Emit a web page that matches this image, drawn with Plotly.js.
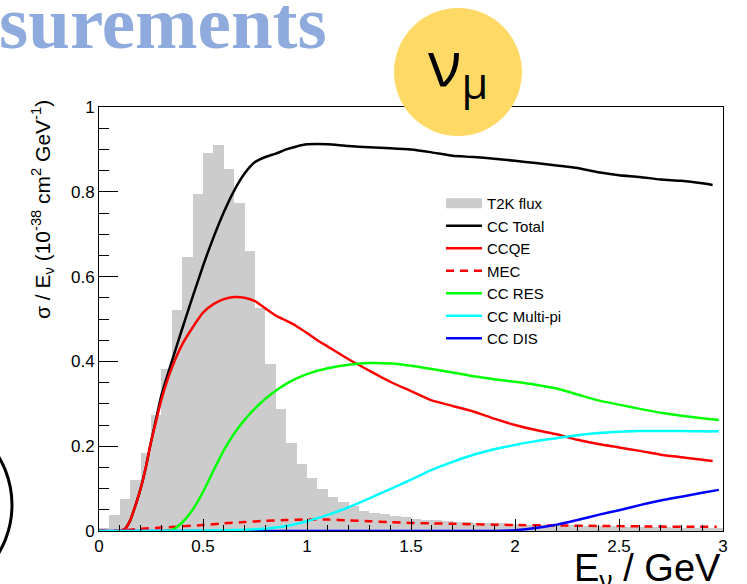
<!DOCTYPE html>
<html><head><meta charset="utf-8">
<script src="https://cdn.plot.ly/plotly-3.0.1.min.js"></script>
<style>html,body{margin:0;padding:0;background:#fff}#chart{width:747px;height:584px}</style>
</head><body><div id="chart"></div>
<script>
// T2K flux histogram (arbitrary units on the same axis), 0.05 GeV bins
const fluxE = [0.025,0.075,0.125,0.175,0.225,0.275,0.325,0.375,0.425,0.475,0.525,0.575,0.625,0.675,0.725,0.775,0.825,0.875,0.925,0.975,1.025,1.075,1.125,1.175,1.225,1.275,1.325,1.375,1.425,1.475,1.525,1.575,1.625,1.675,1.725,1.775,1.825,1.875,1.925,1.975,2.025,2.075,2.125,2.175,2.225,2.275,2.325,2.375,2.425,2.475,2.525,2.575,2.625,2.675,2.725,2.775,2.825,2.875,2.925,2.975];
const fluxVal = [0.006,0.037,0.076,0.120,0.184,0.273,0.381,0.522,0.647,0.794,0.892,0.910,0.853,0.774,0.660,0.526,0.394,0.288,0.208,0.159,0.124,0.098,0.081,0.069,0.058,0.048,0.043,0.039,0.035,0.033,0.029,0.027,0.025,0.024,0.022,0.021,0.020,0.019,0.018,0.017,0.016,0.015,0.015,0.014,0.013,0.013,0.012,0.012,0.011,0.011,0.010,0.010,0.009,0.009,0.009,0.008,0.008,0.008,0.007,0.007];

const totalE = [0.10,0.125,0.15,0.175,0.20,0.225,0.25,0.275,0.30,0.35,0.40,0.45,0.50,0.55,0.60,0.65,0.70,0.75,0.80,0.85,0.90,0.95,1.00,1.05,1.10,1.20,1.30,1.40,1.50,1.60,1.70,1.80,1.90,2.00,2.10,2.20,2.30,2.40,2.50,2.60,2.70,2.80,2.90,2.95];
const totalVal = [0,0.005,0.025,0.06,0.10,0.15,0.21,0.265,0.32,0.40,0.477,0.552,0.625,0.692,0.752,0.803,0.843,0.870,0.882,0.89,0.90,0.907,0.912,0.913,0.912,0.908,0.905,0.903,0.900,0.893,0.885,0.882,0.878,0.873,0.868,0.862,0.856,0.846,0.839,0.835,0.829,0.826,0.820,0.816];

const qeE = [0.10,0.125,0.15,0.175,0.20,0.225,0.25,0.275,0.30,0.35,0.40,0.45,0.50,0.55,0.60,0.65,0.70,0.75,0.80,0.85,0.90,0.95,1.00,1.05,1.10,1.20,1.30,1.40,1.50,1.60,1.70,1.80,1.90,2.00,2.10,2.20,2.30,2.40,2.50,2.60,2.70,2.80,2.90,2.95];
const qeVal = [0,0.005,0.025,0.06,0.10,0.15,0.21,0.26,0.31,0.385,0.44,0.48,0.515,0.535,0.547,0.552,0.55,0.542,0.525,0.508,0.496,0.483,0.467,0.45,0.435,0.405,0.378,0.352,0.33,0.308,0.295,0.282,0.265,0.25,0.238,0.228,0.215,0.205,0.197,0.189,0.18,0.174,0.168,0.165];

const mecE = [0,0.10,0.15,0.20,0.30,0.40,0.50,0.60,0.70,0.80,0.90,1.00,1.10,1.20,1.30,1.40,1.50,1.60,1.70,1.80,1.90,2.00,2.20,2.40,2.60,2.80,2.97];
const mecVal = [0.001,0.001,0.003,0.005,0.008,0.011,0.014,0.018,0.021,0.024,0.026,0.027,0.027,0.025,0.023,0.021,0.019,0.018,0.017,0.016,0.015,0.014,0.013,0.012,0.011,0.010,0.010];

const resE = [0.30,0.35,0.40,0.45,0.50,0.55,0.60,0.65,0.70,0.75,0.80,0.85,0.90,0.95,1.00,1.05,1.10,1.20,1.30,1.40,1.50,1.60,1.70,1.80,1.90,2.00,2.10,2.20,2.30,2.40,2.50,2.60,2.70,2.80,2.90,2.98];
const resVal = [0,0.002,0.02,0.05,0.092,0.142,0.19,0.23,0.262,0.289,0.312,0.331,0.347,0.36,0.37,0.378,0.384,0.392,0.396,0.395,0.39,0.382,0.374,0.365,0.358,0.352,0.345,0.336,0.322,0.308,0.298,0.288,0.279,0.272,0.266,0.262];

const multiE = [0,0.30,0.50,0.70,0.80,0.90,1.00,1.10,1.20,1.30,1.40,1.50,1.60,1.70,1.80,1.90,2.00,2.10,2.20,2.30,2.40,2.50,2.60,2.70,2.80,2.90,2.98];
const multiVal = [0,0,0.001,0.003,0.006,0.012,0.023,0.038,0.056,0.077,0.099,0.121,0.144,0.163,0.18,0.193,0.203,0.212,0.219,0.226,0.231,0.234,0.236,0.236,0.236,0.235,0.235];

const disE = [0,0.50,1.00,1.50,1.90,2.00,2.10,2.20,2.30,2.40,2.50,2.60,2.70,2.80,2.90,2.98];
const disVal = [0,0,0,0,0,0.002,0.007,0.015,0.026,0.038,0.049,0.061,0.072,0.081,0.09,0.097];

const legendNames = ['T2K flux','CC Total','CCQE','MEC','CC RES','CC Multi-pi','CC DIS'];

// layout geometry helpers (pixel -> paper)
const L = 99, R = 24, T = 107, B = 53, W = 747, H = 584;
const PW = W - L - R, PH = H - T - B;
const fx = px => (px - L) / PW;
const fy = py => (H - B - py) / PH;

const FONT = 'Liberation Sans, Arial, Helvetica, sans-serif';
const FLUX_COLOR = '#cccccc';
const line = (c, dash) => ({color: c, width: 2.5, shape: 'spline', smoothing: 0.6, dash: dash || 'solid'});

const traces = [
  {type: 'bar', x: fluxE, y: fluxVal, width: 0.05, name: legendNames[0], showlegend: false,
   marker: {color: FLUX_COLOR, line: {width: 0}}, hoverinfo: 'skip'},
  // legend proxy for the flux histogram (wide filled box like the original legend)
  {type: 'scatter', mode: 'lines', x: [null], y: [null], name: legendNames[0], legendrank: 1,
   line: {color: FLUX_COLOR, width: 14}},
  {type: 'scatter', mode: 'lines', x: totalE, y: totalVal, name: legendNames[1], legendrank: 2, line: line('#000000')},
  {type: 'scatter', mode: 'lines', x: qeE, y: qeVal, name: legendNames[2], legendrank: 3, line: line('#ff0000')},
  {type: 'scatter', mode: 'lines', x: mecE, y: mecVal, name: legendNames[3], legendrank: 4, line: line('#ff0000', '8px,6px')},
  {type: 'scatter', mode: 'lines', x: resE, y: resVal, name: legendNames[4], legendrank: 5, line: line('#00ff00')},
  {type: 'scatter', mode: 'lines', x: disE, y: disVal, name: legendNames[6], legendrank: 7, line: line('#0000ff')},
  {type: 'scatter', mode: 'lines', x: multiE, y: multiVal, name: legendNames[5], legendrank: 6, line: line('#00ffff')}
];

const layout = {
  width: W, height: H,
  margin: {l: L, r: R, t: T, b: B, pad: 0},
  paper_bgcolor: '#ffffff', plot_bgcolor: '#ffffff',
  showlegend: true,
  bargap: 0,
  font: {family: FONT, color: '#000'},
  xaxis: {range: [0, 3], dtick: 0.5, tick0: 0, ticks: 'inside', ticklen: 12, tickwidth: 1, tickcolor: '#000',
    minor: {dtick: 0.1, tick0: 0, ticks: 'inside', ticklen: 6, tickwidth: 1, tickcolor: '#000'},
    showline: true, linecolor: '#000', linewidth: 1, mirror: true, showgrid: false, zeroline: false,
    tickfont: {family: FONT, size: 17, color: '#000'}, fixedrange: true},
  yaxis: {range: [0, 1], dtick: 0.2, tick0: 0, ticks: 'inside', ticklen: 19, tickwidth: 1, tickcolor: '#000',
    minor: {dtick: 0.05, tick0: 0, ticks: 'inside', ticklen: 10, tickwidth: 1, tickcolor: '#000'},
    showline: true, linecolor: '#000', linewidth: 1, mirror: true, showgrid: false, zeroline: false,
    tickfont: {family: FONT, size: 17, color: '#000'}, fixedrange: true},
  legend: {x: fx(441), y: fy(187), xanchor: 'left', yanchor: 'top', bgcolor: 'rgba(0,0,0,0)', borderwidth: 0,
    font: {family: FONT, size: 15, color: '#000'}, traceorder: 'normal', itemwidth: 36, tracegroupgap: 0},
  shapes: [
    {type: 'circle', xref: 'paper', yref: 'paper', x0: fx(394), x1: fx(522), y0: fy(136), y1: fy(8),
     fillcolor: 'rgb(255,217,102)', line: {width: 0}, layer: 'above'},
    {type: 'circle', xref: 'paper', yref: 'paper', x0: fx(-176), x1: fx(12), y0: fy(599), y1: fy(411),
     fillcolor: 'rgba(0,0,0,0)', line: {width: 3, color: '#000'}, layer: 'above'}
  ],
  annotations: [
    {xref: 'paper', yref: 'paper', x: fx(42), y: fy(210), xanchor: 'center', yanchor: 'middle', textangle: -90,
     showarrow: false, text: 'σ / E<sub>ν</sub> (10<sup>-38</sup> cm<sup>2</sup> GeV<sup>-1</sup>)',
     font: {family: FONT, size: 21, color: '#000'}},
    {xref: 'paper', yref: 'paper', x: fx(723), y: fy(571), xanchor: 'right', yanchor: 'middle',
     showarrow: false, text: 'E<sub>ν</sub>\u00a0/\u00a0GeV', font: {family: FONT, size: 38, color: '#000'}},
    {xref: 'paper', yref: 'paper', x: fx(-3), y: fy(22), xanchor: 'left', yanchor: 'middle',
     showarrow: false, text: '<b>surements</b>', font: {family: 'Liberation Serif, Times New Roman, serif', size: 75, color: 'rgb(143,170,220)'}},
    {xref: 'paper', yref: 'paper', x: fx(458), y: fy(66), xanchor: 'center', yanchor: 'middle',
     showarrow: false, text: 'ν<sub>μ</sub>', font: {family: 'Open Sans, sans-serif', size: 62, color: '#000'}}
  ]
};

Plotly.newPlot('chart', traces, layout, {displayModeBar: false, staticPlot: true});
</script></body></html>
